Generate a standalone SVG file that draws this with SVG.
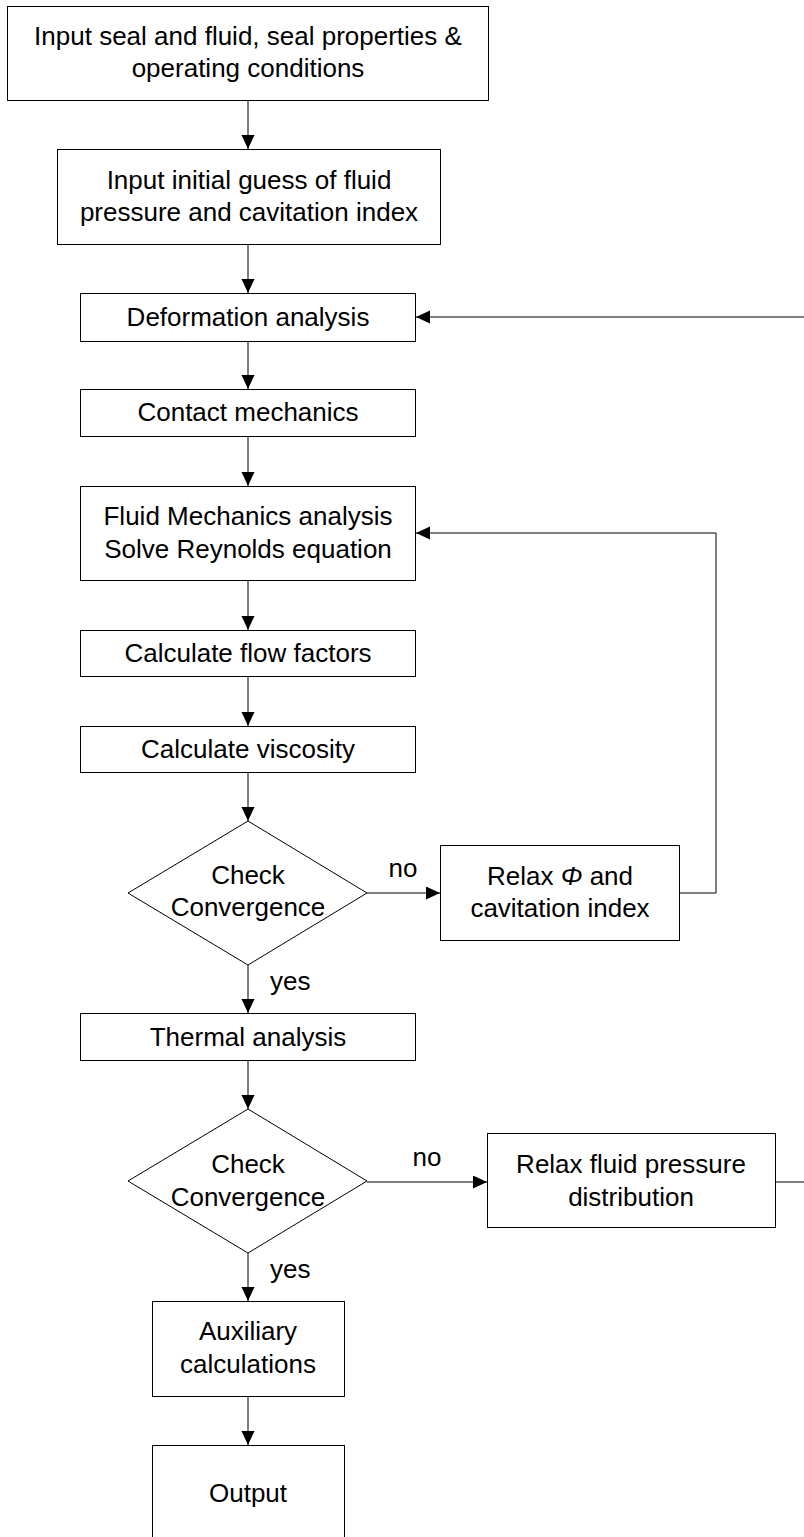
<svg xmlns="http://www.w3.org/2000/svg" width="804" height="1537" viewBox="0 0 804 1537">
<style>
.box{fill:#fff;stroke:#000;stroke-width:1}
.t{font-family:"Liberation Sans",Arial,sans-serif;font-size:26px;fill:#000;text-anchor:middle}
.l{font-family:"Liberation Sans",Arial,sans-serif;font-size:26px;fill:#000}
.c{fill:none;stroke:#000;stroke-width:1}
</style>
<defs>
<marker id="ah" markerUnits="userSpaceOnUse" markerWidth="15" markerHeight="14" refX="14" refY="6.5" orient="auto">
<path d="M0,0 L14,6.5 L0,13 z" fill="#000"/>
</marker>
</defs>
<rect width="804" height="1537" fill="#fff"/>
<g id="connectors">
<path class="c" d="M248,101 V149" marker-end="url(#ah)"/>
<path class="c" d="M248,245 V293" marker-end="url(#ah)"/>
<path class="c" d="M248,342 V389" marker-end="url(#ah)"/>
<path class="c" d="M248,437 V486" marker-end="url(#ah)"/>
<path class="c" d="M248,581 V630" marker-end="url(#ah)"/>
<path class="c" d="M248,677 V726" marker-end="url(#ah)"/>
<path class="c" d="M248,773 V821" marker-end="url(#ah)"/>
<path class="c" d="M248,965 V1013" marker-end="url(#ah)"/>
<path class="c" d="M248,1061 V1109" marker-end="url(#ah)"/>
<path class="c" d="M248,1253 V1301" marker-end="url(#ah)"/>
<path class="c" d="M248,1397 V1445" marker-end="url(#ah)"/>
<path class="c" d="M367,893 H440" marker-end="url(#ah)"/>
<path class="c" d="M680,893 H716 V533 H416" marker-end="url(#ah)"/>
<path class="c" d="M367,1182 H487" marker-end="url(#ah)"/>
<path class="c" d="M776,1182 H806 V317 H416" marker-end="url(#ah)"/>
<text class="t" x="403" y="877">no</text>
<text class="l" x="270" y="990">yes</text>
<text class="t" x="427" y="1166">no</text>
<text class="l" x="270" y="1278">yes</text>
</g>
<g id="input">
<rect class="box" x="7.5" y="6.5" width="481" height="94"/>
<text class="t" x="248" y="45">Input seal and fluid, seal properties &amp;</text>
<text class="t" x="248" y="77">operating conditions</text>
</g>
<g id="guess">
<rect class="box" x="57.5" y="149.5" width="383" height="95"/>
<text class="t" x="249" y="189">Input initial guess of fluid</text>
<text class="t" x="249" y="221">pressure and cavitation index</text>
</g>
<g id="deformation">
<rect class="box" x="80.5" y="293.5" width="335" height="48"/>
<text class="t" x="248" y="326">Deformation analysis</text>
</g>
<g id="contact">
<rect class="box" x="80.5" y="389.5" width="335" height="47"/>
<text class="t" x="248" y="421">Contact mechanics</text>
</g>
<g id="fluid">
<rect class="box" x="80.5" y="486.5" width="335" height="94"/>
<text class="t" x="248" y="525">Fluid Mechanics analysis</text>
<text class="t" x="248" y="558">Solve Reynolds equation</text>
</g>
<g id="flow">
<rect class="box" x="80.5" y="630.5" width="335" height="46"/>
<text class="t" x="248" y="662">Calculate flow factors</text>
</g>
<g id="viscosity">
<rect class="box" x="80.5" y="726.5" width="335" height="46"/>
<text class="t" x="248" y="758">Calculate viscosity</text>
</g>
<g id="check1">
<polygon class="box" points="248,821 367,893 248,965 128,893"/>
<text class="t" x="248" y="884">Check</text>
<text class="t" x="248" y="916">Convergence</text>
</g>
<g id="relaxphi">
<rect class="box" x="440.5" y="845.5" width="239" height="95"/>
<text class="t" x="560" y="885">Relax <tspan font-style="italic">Φ</tspan> and</text>
<text class="t" x="560" y="917">cavitation index</text>
</g>
<g id="thermal">
<rect class="box" x="80.5" y="1013.5" width="335" height="47"/>
<text class="t" x="248" y="1046">Thermal analysis</text>
</g>
<g id="check2">
<polygon class="box" points="248,1109 367,1181 248,1253 128,1181"/>
<text class="t" x="248" y="1173">Check</text>
<text class="t" x="248" y="1206">Convergence</text>
</g>
<g id="relaxfluid">
<rect class="box" x="487.5" y="1133.5" width="288" height="94"/>
<text class="t" x="631" y="1173">Relax fluid pressure</text>
<text class="t" x="631" y="1206">distribution</text>
</g>
<g id="auxiliary">
<rect class="box" x="152.5" y="1301.5" width="192" height="95"/>
<text class="t" x="248" y="1340">Auxiliary</text>
<text class="t" x="248" y="1373">calculations</text>
</g>
<g id="output">
<rect class="box" x="152.5" y="1445.5" width="192" height="100"/>
<text class="t" x="248" y="1502">Output</text>
</g>
</svg>
